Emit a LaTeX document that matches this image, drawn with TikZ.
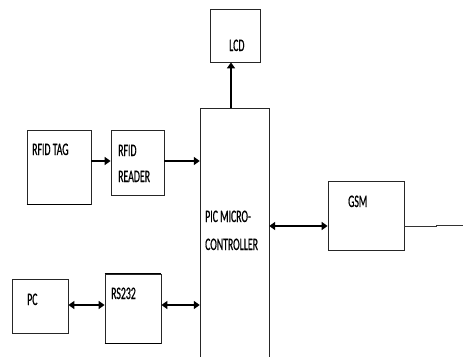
\documentclass[tikz,border=0pt]{standalone}
\usepackage{fontspec}
\setmainfont[FakeStretch=0.56,FakeBold=0.6]{Carlito}
\usetikzlibrary{arrows.meta}
\begin{document}
\begin{tikzpicture}[x=1pt,y=-1pt,
  blk/.style={draw=black!85,line width=0.8pt,inner sep=0pt},
  lbl/.style={anchor=base west,inner sep=0pt,font=\fontsize{17.5}{17.5}\selectfont},
  arr/.style={line width=2.6pt,-{Triangle[length=6pt,width=8pt]}},
  darr/.style={line width=2.6pt,{Triangle[length=6pt,width=8pt]}-{Triangle[length=6pt,width=8pt]}}]
\useasboundingbox[fill=white] (0,0) rectangle (463,356);
% boxes
\node[blk,minimum width=50pt,minimum height=53pt] (lcd) at (235,35.5) {};
\node[blk,minimum width=64pt,minimum height=74pt] (tag) at (59,167) {};
\node[blk,minimum width=53pt,minimum height=65pt] (reader) at (137.5,162.5) {};
\node[blk,minimum width=76pt,minimum height=69pt] (gsm) at (366,215.5) {};
\node[blk,minimum width=56pt,minimum height=54pt] (pc) at (40,306) {};
\node[blk,minimum width=56pt,minimum height=69pt] (rs) at (133,308.5) {};
\coordinate (picbl) at (200,357);
\coordinate (pictl) at (200,108);
\coordinate (pictr) at (269,108);
\coordinate (picbr) at (269,357);
\draw[draw=black!85,line width=0.8pt] (picbl) -- (pictl) -- (pictr) -- (picbr);
\node[inner sep=0pt,minimum width=69pt,minimum height=249pt] (pic) at (234.5,232.5) {};
% thicker edges
\draw[line width=1.6pt] (tag.south west) -- (tag.south east);
\draw[line width=1.6pt] (rs.north west) -- (rs.north east);
\draw[line width=1.6pt] (rs.south west) -- (rs.south east);
% labels
\node[lbl] (tlcd) at (229,51) {LCD};
\node[lbl] (ttag) at (32,155) {RFID TAG};
\node[lbl] (trf) at (118,156) {RFID};
\node[lbl] (trd) at (118,182) {READER};
\node[lbl] (tpic1) at (205,222) {PIC MICRO-};
\node[lbl] (tpic2) at (205,250) {CONTROLLER};
\node[lbl] (tgsm) at (348,207) {GSM};
\node[lbl] (tpc) at (27,305) {PC};
\node[lbl] (trs) at (111,299) {RS232};
% connectors
\draw[arr] (pictl -| 231,0) ++(0,0) coordinate (a1) -- (a1 |- lcd.south);
\draw[arr] (tag.east |- 0,161) -- (reader.west |- 0,161);
\draw[arr] (reader.east |- 0,161) -- (pic.west |- 0,161);
\draw[darr] (pic.east |- 0,226) -- (gsm.west |- 0,226);
\draw[darr] (pc.east |- 0,305) -- (rs.west |- 0,305);
\draw[darr] (rs.east |- 0,305) -- (pic.west |- 0,305);
\coordinate (gsmout) at (463,225.5);
\draw[line width=0.8pt,draw=black!80] (gsm.east |- 0,226) -- (436,226) -- (436,225.5) -- (gsmout);
\end{tikzpicture}
\end{document}
